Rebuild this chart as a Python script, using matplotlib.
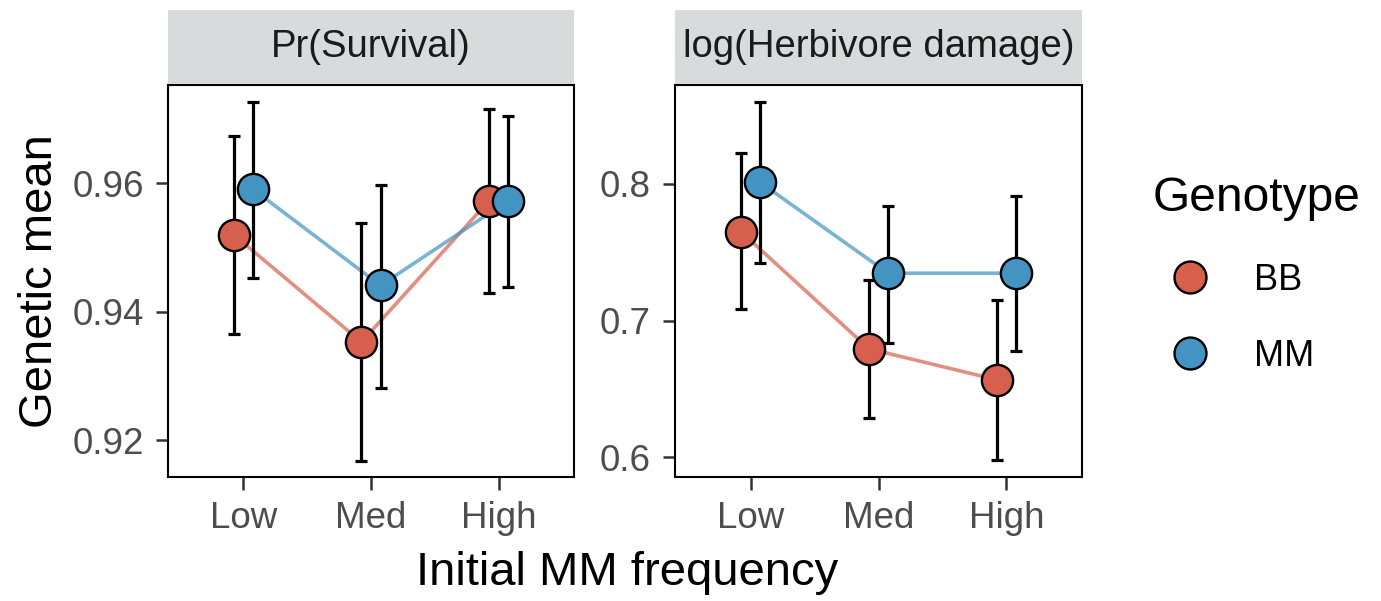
import matplotlib
matplotlib.use("Agg")
import matplotlib.pyplot as plt
from matplotlib.lines import Line2D
import numpy as np

plt.rcParams['font.family'] = ['Liberation Sans', 'DejaVu Sans']

# Data
freq_levels = ['Low', 'Med', 'High']
genotypes = ['BB', 'MM']

surv_bb = [0.9520, 0.9353, 0.9573]
surv_bb_lo = [0.9365, 0.9168, 0.9430]
surv_bb_hi = [0.9673, 0.9539, 0.9716]
surv_mm = [0.9591, 0.9441, 0.9573]
surv_mm_lo = [0.9453, 0.9282, 0.9439]
surv_mm_hi = [0.9727, 0.9598, 0.9704]

herb_bb = [0.7651, 0.6794, 0.6567]
herb_bb_lo = [0.7083, 0.6287, 0.5982]
herb_bb_hi = [0.8224, 0.7298, 0.7152]
herb_mm = [0.8012, 0.7347, 0.7347]
herb_mm_lo = [0.7425, 0.6840, 0.6781]
herb_mm_hi = [0.8597, 0.7841, 0.7915]

panel_titles = ['Pr(Survival)', 'log(Herbivore damage)']
surv_ticks = [0.92, 0.94, 0.96]
herb_ticks = [0.6, 0.7, 0.8]

colors = {'BB': '#D6604D', 'MM': '#4393C3'}
dodge = {'BB': -0.075, 'MM': 0.075}
tick_grey = '#4D4D4D'

panels = [
    dict(title=panel_titles[0], ticks=surv_ticks, fmt='{:.2f}', ylim=(0.9143, 0.9753),
         data={'BB': (surv_bb, surv_bb_lo, surv_bb_hi), 'MM': (surv_mm, surv_mm_lo, surv_mm_hi)}),
    dict(title=panel_titles[1], ticks=herb_ticks, fmt='{:.1f}', ylim=(0.5856, 0.8724),
         data={'BB': (herb_bb, herb_bb_lo, herb_bb_hi), 'MM': (herb_mm, herb_mm_lo, herb_mm_hi)}),
]

W, H = 1381, 601
fig = plt.figure(figsize=(W / 100, H / 100), dpi=100)

# panel boxes in pixels: left, right, top, bottom
boxes = [(168, 574, 85, 477), (675, 1082, 85, 477)]
strip_top = 10

x = np.arange(1, len(freq_levels) + 1)
for p, (l, r, t, b) in zip(panels, boxes):
    ax = fig.add_axes([l / W, (H - b) / H, (r - l) / W, (b - t) / H])
    for g in genotypes:
        ax.plot(x + dodge[g], p['data'][g][0], color=colors[g], lw=2.6, alpha=0.7, zorder=1)
    for g in genotypes:
        mean, lo, hi = (np.array(v) for v in p['data'][g])
        ax.errorbar(x + dodge[g], mean, yerr=[mean - lo, hi - mean], fmt='none',
                    ecolor='black', elinewidth=2.3, capsize=4, capthick=2.3, zorder=2)
    for g in genotypes:
        ax.plot(x + dodge[g], p['data'][g][0], 'o', ms=22.5, mfc=colors[g], mec='black',
                mew=1.7, zorder=3)
    ax.set_xlim(0.41, 3.59)
    ax.set_ylim(*p['ylim'])
    ax.set_xticks(x)
    ax.set_xticklabels(freq_levels)
    ax.set_yticks(p['ticks'])
    ax.set_yticklabels([p['fmt'].format(v) for v in p['ticks']])
    ax.tick_params(labelsize=26.5, colors='#333333', labelcolor=tick_grey, length=9,
                   width=1.8, pad=8.5)
    for s in ax.spines.values():
        s.set_linewidth(1.5)
        s.set_color('black')

    sax = fig.add_axes([l / W, (H - t + 1) / H, (r - l) / W, (t - 1 - strip_top) / H])
    sax.set_facecolor('#D7DBDB')
    for s in sax.spines.values():
        s.set_visible(False)
    sax.set_xticks([])
    sax.set_yticks([])
    sax.text(0.5, 0.5, p['title'], ha='center', va='center', fontsize=27.5, color='#1A1A1A',
             transform=sax.transAxes)

fig.text(627 / W, (H - 573) / H, 'Initial MM frequency', ha='center', va='center', fontsize=34)
fig.text(40 / W, (H - 281) / H, 'Genetic mean', ha='center', va='center', fontsize=34, rotation=90)

handles = [Line2D([], [], ls='none', marker='o', ms=23, mfc=colors[g], mec='black', mew=1.7)
           for g in genotypes]
leg = fig.legend(handles, genotypes, title='Genotype', loc='upper left',
                 bbox_to_anchor=(1153 / W, (H - 176) / H), frameon=False, fontsize=26,
                 title_fontsize=34.5, alignment='left', borderpad=0, borderaxespad=0,
                 handlelength=2.03, handletextpad=0.76, labelspacing=1.15)

fig.savefig('out.png', dpi=100)
